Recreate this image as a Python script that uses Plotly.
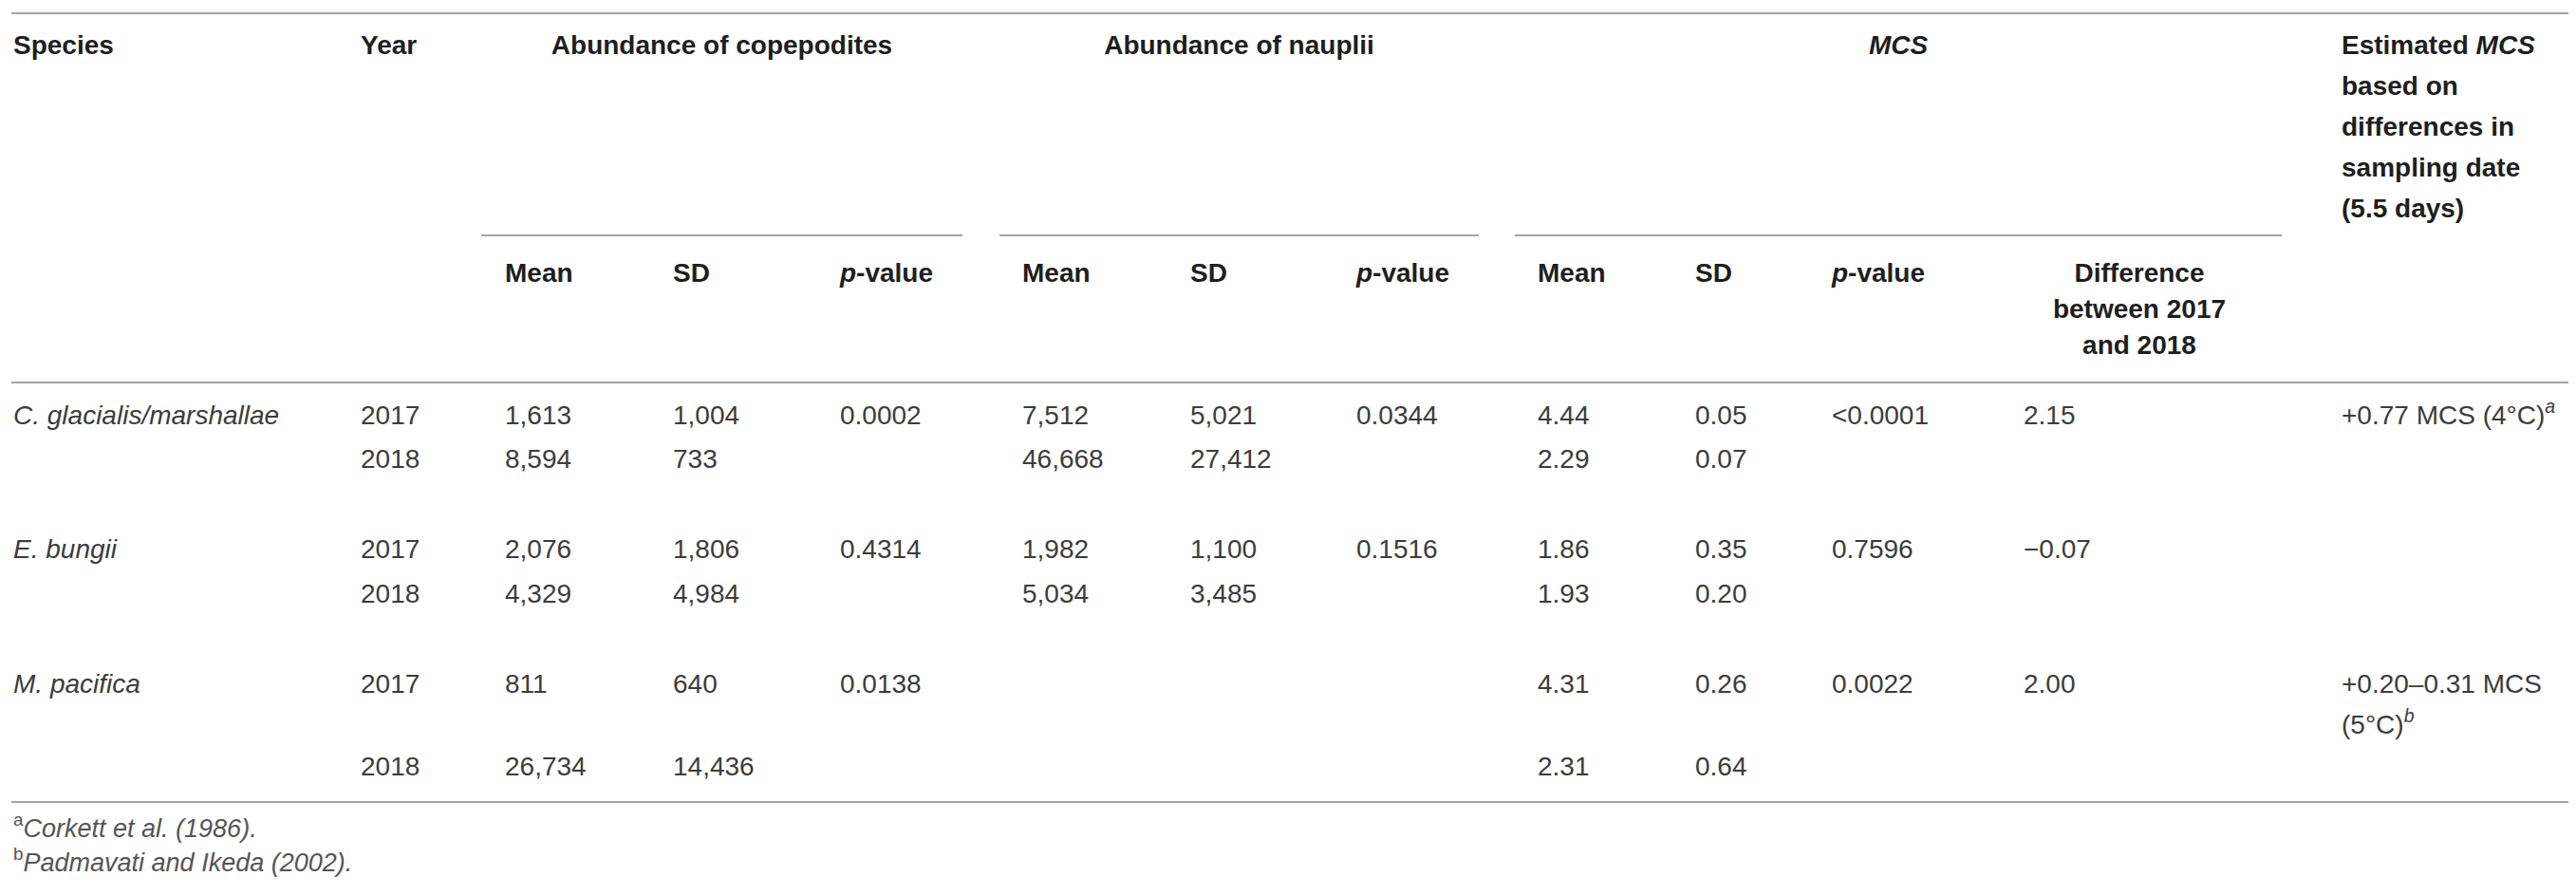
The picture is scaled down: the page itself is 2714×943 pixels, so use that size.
import plotly.graph_objects as go

# ---------------- data ----------------
species = ["C. glacialis/marshallae", "E. bungii", "M. pacifica"]
years = ["2017", "2018", "2017", "2018", "2017", "2018"]
cop_mean = ["1,613", "8,594", "2,076", "4,329", "811", "26,734"]
cop_sd = ["1,004", "733", "1,806", "4,984", "640", "14,436"]
cop_p = ["0.0002", "0.4314", "0.0138"]
nau_mean = ["7,512", "46,668", "1,982", "5,034", "", ""]
nau_sd = ["5,021", "27,412", "1,100", "3,485", "", ""]
nau_p = ["0.0344", "0.1516", ""]
mcs_mean = ["4.44", "2.29", "1.86", "1.93", "4.31", "2.31"]
mcs_sd = ["0.05", "0.07", "0.35", "0.20", "0.26", "0.64"]
mcs_p = ["<0.0001", "0.7596", "0.0022"]
mcs_diff = ["2.15", "\u22120.07", "2.00"]
est_mcs = ["+0.77 MCS (4\u00b0C)<sup><i>a</i></sup>", "",
           "+0.20\u20130.31 MCS<br>(5\u00b0C)<sup><i>b</i></sup>"]

group_headers = ["Abundance of copepodites", "Abundance of nauplii", "<i>MCS</i>"]
top_headers = ["Species", "Year"]
est_header = "Estimated <i>MCS</i><br>based on<br>differences in<br>sampling date<br>(5.5 days)"
sub_headers = ["Mean", "SD", "<i>p</i>-value", "Mean", "SD", "<i>p</i>-value",
               "Mean", "SD", "<i>p</i>-value"]
diff_header = "Difference<br>between 2017<br>and 2018"
footnotes = ["<sup>a</sup><i>Corkett et al. (1986).</i>",
             "<sup>b</sup><i>Padmavati and Ikeda (2002).</i>"]

# ---------------- layout constants ----------------
W, H = 2714, 943
FS = 28
HEAD_FONT = dict(family="Liberation Sans, Arial, sans-serif", size=FS, color="#1e1e1e")
BODY_FONT = dict(family="Liberation Sans, Arial, sans-serif", size=FS, color="#3c3c3c")
FOOT_FONT = dict(family="Liberation Sans, Arial, sans-serif", size=27, color="#555555")
RULE = "#a3a3a3"

row_y = [432, 478, 573, 620, 715, 802]
group_rows = [0, 2, 4]
col_x = dict(species=6, year=372, cm=524, csd=701, cp=877, nm=1069, nsd=1246,
             np=1421, mm=1612, msd=1778, mp=1922, md=2124, est=2459)
sub_x = [524, 701, 877, 1069, 1246, 1421, 1612, 1778, 1922]
span_ranges = [(499, 1006), (1045, 1550), (1588, 2396)]
header_y = 42
sub_y = 282
line_gap_head = 43
line_gap_diff = 38
est_gap = 43
foot_y = [867, 903]

fig = go.Figure()


def add_text(xs, ys, texts, font, pos="middle right", bold=False):
    xs2, ys2, t2 = [], [], []
    for x, y, t in zip(xs, ys, texts):
        if t == "":
            continue
        xs2.append(x)
        ys2.append(y)
        t2.append("<b>" + t + "</b>" if bold else t)
    fig.add_trace(go.Scatter(x=xs2, y=ys2, text=t2, mode="text",
                             textposition=pos, textfont=font,
                             hoverinfo="skip", showlegend=False))


def add_multiline(x, y0, text, gap, font, pos="middle right", bold=False):
    lines = text.split("<br>")
    add_text([x] * len(lines), [y0 + i * gap for i in range(len(lines))],
             lines, font, pos, bold)


# headers
add_text([col_x["species"], col_x["year"]], [header_y] * 2, top_headers, HEAD_FONT, bold=True)
add_text([(a + b) / 2 for a, b in span_ranges], [header_y] * 3, group_headers,
         HEAD_FONT, pos="middle center", bold=True)
add_multiline(col_x["est"], header_y, est_header, line_gap_head, HEAD_FONT, bold=True)
add_text(sub_x, [sub_y] * len(sub_x), sub_headers, HEAD_FONT, bold=True)
add_multiline(2246, sub_y, diff_header, line_gap_diff, HEAD_FONT,
              pos="middle center", bold=True)

# body
grp_y = [row_y[i] for i in group_rows]
add_text([col_x["species"]] * 3, grp_y, ["<i>" + s + "</i>" for s in species], BODY_FONT)
add_text([col_x["year"]] * 6, row_y, years, BODY_FONT)
add_text([col_x["cm"]] * 6, row_y, cop_mean, BODY_FONT)
add_text([col_x["csd"]] * 6, row_y, cop_sd, BODY_FONT)
add_text([col_x["cp"]] * 3, grp_y, cop_p, BODY_FONT)
add_text([col_x["nm"]] * 6, row_y, nau_mean, BODY_FONT)
add_text([col_x["nsd"]] * 6, row_y, nau_sd, BODY_FONT)
add_text([col_x["np"]] * 3, grp_y, nau_p, BODY_FONT)
add_text([col_x["mm"]] * 6, row_y, mcs_mean, BODY_FONT)
add_text([col_x["msd"]] * 6, row_y, mcs_sd, BODY_FONT)
add_text([col_x["mp"]] * 3, grp_y, mcs_p, BODY_FONT)
add_text([col_x["md"]] * 3, grp_y, mcs_diff, BODY_FONT)
for yy, t in zip(grp_y, est_mcs):
    if t:
        add_multiline(col_x["est"], yy, t, est_gap, BODY_FONT)

# footnotes
add_text([col_x["species"]] * 2, foot_y, footnotes, FOOT_FONT)

# rules
shapes = []
def hline(x0, x1, y):
    shapes.append(dict(type="line", xref="x", yref="y", x0=x0, x1=x1, y0=y, y1=y,
                       line=dict(color=RULE, width=2)))

hline(4, 2709, 6)
for a, b in span_ranges:
    hline(a, b, 240)
hline(4, 2709, 395)
hline(4, 2709, 837)
hline(4, 2709, 938)

fig.update_layout(
    width=W, height=H,
    margin=dict(l=0, r=0, t=0, b=0),
    paper_bgcolor="white", plot_bgcolor="white",
    xaxis=dict(range=[0, W], visible=False, fixedrange=True),
    yaxis=dict(range=[H, 0], visible=False, fixedrange=True),
    shapes=shapes,
    showlegend=False,
)

fig.write_html("out.html", config={"displayModeBar": False})
